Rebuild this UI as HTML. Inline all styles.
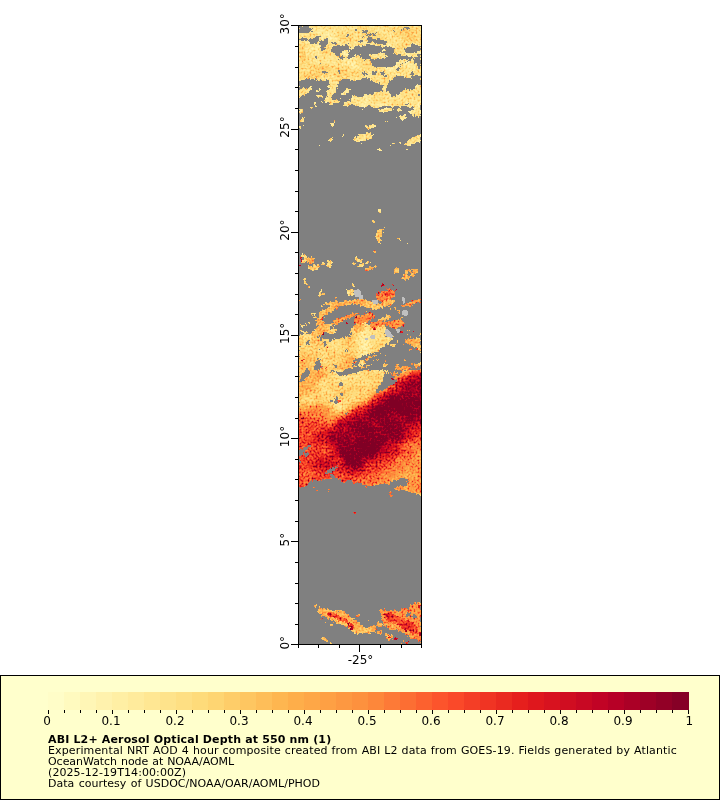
<!DOCTYPE html>
<html lang="en"><head><meta charset="utf-8"><title>ABI L2+ Aerosol Optical Depth at 550 nm</title>
<style>
html,body{margin:0;padding:0;background:#fff;}
body{width:720px;height:800px;overflow:hidden;font-family:"DejaVu Sans","Liberation Sans",sans-serif;}
svg{display:block;}
text{font-family:"DejaVu Sans","Liberation Sans",sans-serif;fill:#000;}
.ax{font-size:12px;}
.lg{font-size:11px;}
.lb{font-size:12px;}
.b{font-weight:bold;}
</style></head><body>
<svg width="720" height="800" viewBox="0 0 720 800">
<rect width="720" height="800" fill="#fff"/>
<g shape-rendering="crispEdges"><rect x="298" y="25" width="124" height="620" fill="#808080"/></g>
<clipPath id="mc"><rect x="298" y="25" width="124" height="620"/></clipPath>
<filter id="bl" filterUnits="userSpaceOnUse" x="270" y="340" width="180" height="200" color-interpolation-filters="sRGB"><feGaussianBlur stdDeviation="3"/></filter>
<filter id="nz" filterUnits="userSpaceOnUse" x="290" y="17" width="140" height="636" color-interpolation-filters="sRGB">
<feTurbulence type="fractalNoise" baseFrequency="0.5" numOctaves="2" seed="3" result="n"/>
<feDisplacementMap in="SourceGraphic" in2="n" scale="5" xChannelSelector="R" yChannelSelector="G" result="d"/>
<feColorMatrix in="d" type="matrix" values="0 0 0 0 0  0 0 0 0 0  0 0 0 0 0  0 0 4 0 -1.5" result="m"/>
<feColorMatrix in="d" type="matrix" values="1 0 0 0 0  1 0 0 0 0  1 0 0 0 0  0 0 0 0 1" result="v"/>
<feColorMatrix in="n" type="matrix" values="0 0 1 0 0  0 0 1 0 0  0 0 1 0 0  0 0 0 0 1" result="ng"/>
<feComponentTransfer in="ng" result="ns"><feFuncR type="table" tableValues="0.2 0.2 0.22 0.25 0.3 0.36 0.45 0.6 0.85 1 1"/><feFuncG type="table" tableValues="0.2 0.2 0.22 0.25 0.3 0.36 0.45 0.6 0.85 1 1"/><feFuncB type="table" tableValues="0.2 0.2 0.22 0.25 0.3 0.36 0.45 0.6 0.85 1 1"/></feComponentTransfer>
<feComposite in="v" in2="ns" operator="arithmetic" k1="0.7" k2="0.74" k3="0.3" k4="-0.111" result="vn"/>
<feTurbulence type="fractalNoise" baseFrequency="0.07" numOctaves="2" seed="11" result="n2"/>
<feColorMatrix in="n2" type="matrix" values="1 0 0 0 0  1 0 0 0 0  1 0 0 0 0  0 0 0 0 1" result="n2g"/>
<feComposite in="vn" in2="n2g" operator="arithmetic" k1="0.2" k2="0.9" k3="0.16" k4="-0.08" result="vn2"/>
<feComponentTransfer in="vn2" result="col"><feFuncR type="table" tableValues="1.0000 1.0000 0.9961 0.9961 0.9922 0.9882 0.8902 0.7412 0.5020 0.5020 0.5020"/><feFuncG type="table" tableValues="1.0000 0.9294 0.8510 0.6980 0.5529 0.3059 0.1020 0.0000 0.0000 0.0000 0.0000"/><feFuncB type="table" tableValues="0.8000 0.6275 0.4627 0.2980 0.2353 0.1647 0.1098 0.1490 0.1490 0.1490 0.1490"/></feComponentTransfer>
<feComposite in="col" in2="m" operator="in"/>
</filter>
<g clip-path="url(#mc)"><g filter="url(#nz)" shape-rendering="crispEdges"><rect x="290" y="17" width="140" height="636" fill="#000"/><polygon fill="rgb(39,0,255)" points="298,25 422,25 422,100 298,100"/>
<polygon fill="rgb(51,0,255)" points="384,26 421,26 421,45 414,43 406,40 396,37 388,32"/>
<polygon fill="rgb(51,0,255)" points="299,62 314,64 327,67 346,65 360,70 354,76 324,76 309,78 299,79"/>
<polygon fill="rgb(51,0,255)" points="299,45 305,45 306,60 299,62"/>
<polygon fill="rgb(0,0,0)" points="299,26 308,26 309,27.5 312.5,28.5 312,32 306,33 299,33.2"/>
<polygon fill="rgb(0,0,0)" points="299,39 303,38 307,38.5 311.5,39 315.5,37 318,35.5 319.8,36 319,40 317.5,43 314,44.5 310,44 308,41.5 303.5,40.5 299,41.2"/>
<polygon fill="rgb(0,0,0)" points="318.5,41.5 323,40 327.5,40.5 328,43.5 326,46 324,50 321.5,50 321,46 319,44.5"/>
<polygon fill="rgb(0,0,0)" points="323.5,37.5 327.5,37.5 327.5,39.5 323.5,39.5"/>
<polygon fill="rgb(0,0,0)" points="332,41.5 336,41.5 336,44 332,44"/>
<polygon fill="rgb(0,0,0)" points="346.5,33.5 349,33.5 349,35.5 346.5,35.5"/>
<polygon fill="rgb(0,0,0)" points="355,28.5 357,28.5 357,31 355,31"/>
<polygon fill="rgb(0,0,0)" points="362.5,30.5 366,30.5 366,32.5 362.5,32.5"/>
<polygon fill="rgb(0,0,0)" points="359,35.5 364,35.5 364,37 359,37"/>
<polygon fill="rgb(0,0,0)" points="358,39.5 363,39.5 363,41.5 358,41.5"/>
<polygon fill="rgb(0,0,0)" points="330,50 334,46.5 339,45 343,46 346,43.5 348.5,44 348,47 350,49 348.5,51 346,50 342,51 341,54 339,56 336,55.5 334,53 331.5,52"/>
<polygon fill="rgb(0,0,0)" points="339,55.5 344,55.5 344,58.5 339,58.5"/>
<polygon fill="rgb(0,0,0)" points="348.5,53 351.5,50 355,47.5 360,46.2 366,45.8 366,60 363.5,59.5 360.5,56.5 358,55 354.5,55 352,58 349,59.5 347,57.5"/>
<polygon fill="rgb(0,0,0)" points="299,81.5 301.5,80 306,79 314,79.2 323,80 327.5,80.5 329,82.5 327.5,86 324,89 320,89 317.5,90 314.5,92 313,89 310,87.2 307,89 303.5,87.2 300,89 299,90"/>
<polygon fill="rgb(0,0,0)" points="299,98 304,95 309,91.5 312.5,89 317.5,90 324,89 327.5,86.5 329,89 327,92 327.5,96 325,100 299,100"/>
<polygon fill="rgb(39,0,255)" points="316,90 319,90 319,92 316,92"/>
<polygon fill="rgb(39,0,255)" points="316.5,94.5 321.5,94.5 321.5,96.5 316.5,96.5"/>
<polygon fill="rgb(0,0,0)" points="339.5,81 343,79.5 350,79 354,81 358,82.5 366,78.5 366,93.5 363,94.5 358,94 354,95.5 350,99 348,100 338,100 334,100 331,97.5 333.5,94 337,90 338,85"/>
<polygon fill="rgb(39,0,255)" points="341.5,93.5 346,90 349.5,88 351.5,89 348.5,92 344,95 342,95.5"/>
<polygon fill="rgb(0,0,0)" points="320.3,63 321.2,63 321.2,65.5 320.3,65.5"/>
<polygon fill="rgb(0,0,0)" points="314,56.5 316.5,56.5 316.5,58 314,58"/>
<polygon fill="rgb(0,0,0)" points="322,71 327,71 327,72.5 322,72.5"/>
<polygon fill="rgb(0,0,0)" points="338,71 340,71 340,73.5 338,73.5"/>
<polygon fill="rgb(0,0,0)" points="327,80 329,80 329,81.5 327,81.5"/>
<polygon fill="rgb(0,0,0)" points="367,38.5 370.5,37 374,38.5 380,39.5 384,40.5 387,41.5 386,43.5 380,44 375,43.5 372,41.5 369,42.5 367.5,40.5"/>
<polygon fill="rgb(0,0,0)" points="362.5,30.5 368,30.5 368,32.5 362.5,32.5"/>
<polygon fill="rgb(0,0,0)" points="366,34 370.5,34 370.5,35.5 366,35.5"/>
<polygon fill="rgb(0,0,0)" points="373,33 375.5,33 375.5,36.5 373,36.5"/>
<polygon fill="rgb(0,0,0)" points="358,40 362,40 362,41.5 358,41.5"/>
<polygon fill="rgb(0,0,0)" points="355,28.5 356.5,28.5 356.5,30.5 355,30.5"/>
<polygon fill="rgb(0,0,0)" points="405,26.5 409,26.5 409,30 407,30.5 404.5,28.5"/>
<polygon fill="rgb(0,0,0)" points="401,29 403.5,29 403.5,30.5 401,30.5"/>
<polygon fill="rgb(0,0,0)" points="392.5,29.5 394.5,29.5 394.5,31 392.5,31"/>
<polygon fill="rgb(0,0,0)" points="354,46.2 359,46.5 366,45.5 372,45 380,46.2 384,47 392,46.2 394,48.5 395.5,51 392,53.5 388.5,55 389,58 387,60 384,60.5 380,61.5 375.5,64 374,66.5 372,64 371,60 369,58.5 364,59.5 361,57 360,54.5 354,55"/>
<polygon fill="rgb(39,0,255)" points="368.5,55.2 375.5,53.7 383,53 387.5,55 386,58 379,58.5 374,59.5 371,57.7"/>
<polygon fill="rgb(39,0,255)" points="382,48.5 385,48.5 385,50.5 382,50.5"/>
<polygon fill="rgb(0,0,0)" points="404,50 406,47.5 410,46.5 412.5,44 416,44.5 419,46 421,46.5 421,50 418,51 414,52.5 410,53.5 406,53"/>
<polygon fill="rgb(0,0,0)" points="388.5,54.5 396,54 401,55.5 407,56.5 411.5,56 413,58.5 409.5,60.5 406,63 401,65.5 396,67 387,66.5 379,67 374.5,66.5 375.5,64 380,61.5 387,60 389,58"/>
<polygon fill="rgb(0,0,0)" points="413,58 418,55 421,54 421,67 418,68 416,64 414,61"/>
<polygon fill="rgb(39,0,255)" points="396,62.5 401,60.2 406,58.8 408.5,60.2 404.5,63.2 398.5,66.5 395,66.8"/>
<polygon fill="rgb(0,0,0)" points="383,70.5 385,74 387.5,77.5 382,76 379.5,73"/>
<polygon fill="rgb(0,0,0)" points="372,71 375.5,71 375.5,74.5 372,74.5"/>
<polygon fill="rgb(0,0,0)" points="362,72 367,72 367,74.5 362,74.5"/>
<polygon fill="rgb(0,0,0)" points="396,68 399,68 399,70 396,70"/>
<polygon fill="rgb(0,0,0)" points="411,72 414,72 414,74.5 411,74.5"/>
<polygon fill="rgb(0,0,0)" points="354,79.5 360,80 362.5,78 369,78.5 370.5,81.2 376,82.8 383,84 385,85 382.5,89 381,92 375.5,92 373,94.5 367,94.5 363,96.5 358,97.5 354,94.5"/>
<polygon fill="rgb(0,0,0)" points="388,82.5 394,78 398,76 404,76.5 408,79 411.5,77 416,74.5 419,76 421,79 421,84.5 417,85.5 414,89 410,90 406,89.2 402,91.2 399,94.2 394,96.2 391.8,97.2 390.5,94.2 388.5,91.2 386,90 387,86"/>
<polygon fill="rgb(0,0,0)" points="418,94 421,94 421,97 418,97"/>
<polygon fill="rgb(39,0,255)" points="324,100 341,100 339,102 334,103 331,104.5 328.5,102.5 324,102"/>
<polygon fill="rgb(39,0,255)" points="343,104 347,101.5 354,100 366,100 366,106 362,107.5 358,106 355,103.5 350,105 346,106 343.5,105.5"/>
<polygon fill="rgb(39,0,255)" points="314,103 316,103 316,105.5 314,105.5"/>
<polygon fill="rgb(39,0,255)" points="311,106.8 313,106.8 313,107.8 311,107.8"/>
<polygon fill="rgb(39,0,255)" points="321,101 323,101 323,103 321,103"/>
<polygon fill="rgb(39,0,255)" points="318,101.8 319,101.8 319,102.8 318,102.8"/>
<polygon fill="rgb(39,0,255)" points="299.2,109 303,109 303,113 299.2,113"/>
<polygon fill="rgb(39,0,255)" points="300.5,118 303.5,118 303.5,122 300.5,122"/>
<polygon fill="rgb(39,0,255)" points="302.5,124 304,124 304,126 302.5,126"/>
<polygon fill="rgb(39,0,255)" points="299.2,126 301,126 301,128 299.2,128"/>
<polygon fill="rgb(39,0,255)" points="304,117 305,117 305,118 304,118"/>
<ellipse fill="rgb(39,0,255)" cx="332" cy="124" rx="2.2" ry="2"/>
<polygon fill="rgb(39,0,255)" points="325,121.8 327,121.8 327,123 325,123"/>
<polygon fill="rgb(39,0,255)" points="330,120 331.2,120 331.2,121 330,121"/>
<polygon fill="rgb(39,0,255)" points="343,134 345.2,134 345.2,136 343,136"/>
<polygon fill="rgb(39,0,255)" points="329,139.5 330.5,137.8 333,139 332.5,140.5 329.5,141"/>
<polygon fill="rgb(39,0,255)" points="318.8,145 320,145 320,146.2 318.8,146.2"/>
<polygon fill="rgb(39,0,255)" points="353,139 357,137.5 360,134.5 366,134 366,140.5 362,141 359,141.5 354,140.8"/>
<polygon fill="rgb(39,0,255)" points="361,143 362.2,143 362.2,144 361,144"/>
<polygon fill="rgb(39,0,255)" points="365,125 366,125 366,127 365,127"/>
<polygon fill="rgb(39,0,255)" points="362,109.2 363,109.2 363,110.8 362,110.8"/>
<polygon fill="rgb(39,0,255)" points="354,100 421,100 421,117 418,117.5 414,116 411,115 408.5,112 412,110 410,108 406,106 402,107.5 398,107 394,105.5 388,107 383,105.5 378,107.5 374,108 370,105 366,107 362,107.5 359,105.5 354,106.2"/>
<polygon fill="rgb(0,0,0)" points="404,103.5 410,103.5 410,105 404,105"/>
<polygon fill="rgb(0,0,0)" points="410.5,106.5 414,106.5 414,109.5 410.5,109.5"/>
<polygon fill="rgb(39,0,255)" points="378,109.5 384,108.5 392,108 394,109.5 388,111.5 383,112.8 379,112.2"/>
<polygon fill="rgb(39,0,255)" points="396,109 401,109 401,110.5 396,110.5"/>
<polygon fill="rgb(39,0,255)" points="400,116.5 403,114.5 406.5,115 406,118 403,120 400.2,119.5"/>
<polygon fill="rgb(39,0,255)" points="395,117.5 397,117.5 397,119 395,119"/>
<polygon fill="rgb(39,0,255)" points="385,122 386.5,120 388,122"/>
<polygon fill="rgb(39,0,255)" points="365,125 367,125 367,127 365,127"/>
<polygon fill="rgb(39,0,255)" points="367,126 372,124 376,125.5 375.5,127 370.5,129 367.5,128.5"/>
<polygon fill="rgb(39,0,255)" points="354,138.5 358,135.5 364,134 369,133 373,134.5 372,138 367,140 362,141 359,141.8 354,141"/>
<polygon fill="rgb(39,0,255)" points="361,143 362.2,143 362.2,144 361,144"/>
<polygon fill="rgb(39,0,255)" points="376,148.5 377.5,148.5 377.5,150 376,150"/>
<polygon fill="rgb(39,0,255)" points="378,148 381.2,148 381.2,150 378,150"/>
<polygon fill="rgb(39,0,255)" points="390,144 391.2,144 391.2,146 390,146"/>
<polygon fill="rgb(39,0,255)" points="393,143 394,143 394,144 393,144"/>
<polygon fill="rgb(39,0,255)" points="400,142 401,142 401,144 400,144"/>
<polygon fill="rgb(39,0,255)" points="405,144 407,141 411,138 416,136 421,134 421,142 418,142.5 414,144 410,146 406,146"/>
<polygon fill="rgb(39,0,255)" points="406,148.8 408,148.8 408,150 406,150"/>
<polygon fill="rgb(51,0,255)" points="379,209 381,209 381,213 379,213"/>
<polygon fill="rgb(63,0,255)" points="376,231 382,228 385,227 382,234 381,240 379,244 376,238"/>
<polygon fill="rgb(51,0,255)" points="373,221 375,221 375,222 373,222"/>
<polygon fill="rgb(51,0,255)" points="398,238 400,238 400,240 398,240"/>
<polygon fill="rgb(51,0,255)" points="406,243 408,243 408,245 406,245"/>
<polygon fill="rgb(77,0,255)" points="373,251 376,251 376,253 373,253"/>
<ellipse fill="rgb(51,0,255)" cx="303.6" cy="258.4" rx="3.4" ry="4.4"/>
<ellipse fill="rgb(0,0,0)" cx="303.6" cy="258.4" rx="1.4" ry="2"/>
<polygon fill="rgb(77,0,255)" points="307,259 312,257 315,260 313,264 308,264"/>
<polygon fill="rgb(51,0,255)" points="308,266 318,265 319,269 313,271 309,269"/>
<polygon fill="rgb(51,0,255)" points="327,261 332,260 332,265 329,268 327,265"/>
<polygon fill="rgb(51,0,255)" points="322,263 324,263 324,265 322,265"/>
<polygon fill="rgb(169,0,255)" points="300.4,257 302,257 302,262 300.4,262"/>
<polygon fill="rgb(169,0,255)" points="299.4,265 301.2,265 301.2,266 299.4,266"/>
<polygon fill="rgb(51,0,255)" points="354,257 357,257 357,260 354,260"/>
<polygon fill="rgb(51,0,255)" points="357,259 362,259 362,262.4 357,262.4"/>
<polygon fill="rgb(51,0,255)" points="352,262 356,262 356,264.4 352,264.4"/>
<polygon fill="rgb(51,0,255)" points="357,266 368,261 370,262.4 360,267.4"/>
<polygon fill="rgb(77,0,255)" points="364,269 376,265 377,267 367,271"/>
<polygon fill="rgb(63,0,255)" points="394,268 399,268 399,273 394,273"/>
<polygon fill="rgb(77,0,255)" points="401,279 406,270 416,268 419,271 413,276 406,280"/>
<polygon fill="rgb(0,0,0)" points="408,272 413,271 410,276 407.6,275.6"/>
<polygon fill="rgb(51,0,255)" points="303,278 306,279 307,286 304.4,285"/>
<polygon fill="rgb(51,0,255)" points="308,286 310,286 310,288 308,288"/>
<polygon fill="rgb(51,0,255)" points="318,295 321,289 322.4,290 320,296.4"/>
<polygon fill="rgb(51,0,255)" points="352,284 354,284 354,287 352,287"/>
<polygon fill="rgb(51,0,255)" points="347,290 353,289 355,294 350,296.4 347,294"/>
<polygon fill="rgb(114,0,255)" points="376,294.4 382,291 388,289 394,291 395,296 390,300 382,302 377,299"/>
<polygon fill="rgb(133,0,255)" points="384,292 392,290.4 393,295 387,298 383.6,296"/>
<polygon fill="rgb(153,0,255)" points="381,283.6 383.6,283.6 383.6,285.6 381,285.6"/>
<polygon fill="rgb(169,0,255)" points="392.4,284.4 394,284.4 394,286 392.4,286"/>
<polygon fill="rgb(169,0,255)" points="395.6,289.6 397,289.6 397,291.2 395.6,291.2"/>
<polygon fill="rgb(77,0,255)" points="322,293 324,293 324,295 322,295"/>
<polygon fill="rgb(77,0,255)" points="318,295.5 321,295.5 321,296.5 318,296.5"/>
<polygon fill="rgb(77,0,255)" points="335,297 337,297 337,298.5 335,298.5"/>
<polygon fill="rgb(77,0,255)" points="300,299 301,299 301,300 300,300"/>
<polygon fill="rgb(51,0,255)" points="348,290 352,290 352,292 348,292"/>
<polygon fill="rgb(51,0,255)" points="351,292.5 353,292.5 353,294.5 351,294.5"/>
<polygon fill="rgb(77,0,255)" points="323.5,303.5 327,301.5 332,302 338,301 342,302.5 346,300 350,301 354,299.5 360,299 366,298.5 366,305 362,306 358,305 354,303.5 350,305 346,305 342,306 338,307 336,309 332,311.5 328,313 326,315 323,317 320,320 318,322 315.5,323 316.5,320 319,317 319,312.5 322,310.5 327,309 331,306.5 329,305 325,305"/>
<polygon fill="rgb(51,0,255)" points="311,312.5 317,312.5 317,315 311,315"/>
<polygon fill="rgb(51,0,255)" points="313,316 316,316 316,318 313,318"/>
<polygon fill="rgb(77,0,255)" points="320,305 322,305 322,307 320,307"/>
<ellipse fill="rgb(51,0,255)" cx="307.5" cy="323.5" rx="2.5" ry="2"/>
<ellipse fill="rgb(0,0,0)" cx="307.3" cy="323.5" rx="1" ry="0.8"/>
<polygon fill="rgb(96,0,255)" points="331,323.5 335,320 340,317.5 346,316.2 350,314 355,312.5 358,313.5 354,316 348,318.5 344,320 341,322 338,324.5 334,325"/>
<polygon fill="rgb(63,0,255)" points="315.5,323 320,320 324,321 327,324 331,324 334,326.5 336,330 334,334 329,334 326,332 323,334 319,335 317,338 312,337 309,334 312,332 315,329 318,326 316.5,324.5"/>
<polygon fill="rgb(0,0,0)" points="325.2,320.2 329,320.2 329,323.8 325.2,323.8"/>
<polygon fill="rgb(0,0,0)" points="329.5,326.2 333,326.2 333,329 329.5,329"/>
<polygon fill="rgb(51,0,255)" points="299,336 304,334 309,334 312,337 317,338 320,335 337,339 342,338 348,337 352,334 351,330 353,326 356,323 360,322 364,320 366,319 366,370 299,370"/>
<polygon fill="rgb(63,0,255)" points="299,338 306,337 314,340 318,346 319,354 324,358 330,356 337,355 346,354 353,356 354,362 350,370 299,370"/>
<polygon fill="rgb(51,0,255)" points="317,350 327,346 339,342 354,338 366,335 366,350 358,352 350,353 342,354 334,355 327,357 321,356"/>
<polygon fill="rgb(0,0,0)" points="319.5,337 323,334 329,334.5 334,334.5 337,337.5 334,340 329,339.5 324,339 321,340"/>
<polygon fill="rgb(51,0,255)" points="301,330 304,330 304,332 301,332"/>
<polygon fill="rgb(51,0,255)" points="304,332 307,332 307,337 304,337"/>
<polygon fill="rgb(51,0,255)" points="300,325 304,325 304,326.5 300,326.5"/>
<polygon fill="rgb(0,0,0)" points="306,341 309,341 309,345 306,345"/>
<polygon fill="rgb(0,0,0)" points="317,359 320,362 319,370 315.5,370 315,364"/>
<polygon fill="rgb(0,0,0)" points="319,348 321,348 321,350 319,350"/>
<polygon fill="rgb(0,0,0)" points="324,341 325.8,341 325.8,346 324,346"/>
<polygon fill="rgb(0,0,0)" points="329,340 331,340 331,342 329,342"/>
<polygon fill="rgb(0,0,0)" points="355.5,355 360,353 366,352.5 366,360 362,360 358,363 355,366 352.5,363.5 354,359"/>
<polygon fill="rgb(0,0,0)" points="357,366.5 366,364 366,370 358,370"/>
<polygon fill="rgb(0,0,0)" points="344.5,350 348,350 348,351.5 344.5,351.5"/>
<polygon fill="rgb(133,0,255)" points="321,318 323,318 323,320 321,320"/>
<polygon fill="rgb(169,0,255)" points="322.5,332 324,332 324,334 322.5,334"/>
<polygon fill="rgb(169,0,255)" points="346,322.5 348.5,322.5 348.5,325 346,325"/>
<polygon fill="rgb(212,0,255)" points="355.5,317 357.2,317 357.2,318.8 355.5,318.8"/>
<polygon fill="rgb(133,0,255)" points="339.5,317 341.5,317 341.5,318.5 339.5,318.5"/>
<polygon fill="rgb(169,0,255)" points="327,347 328,347 328,348 327,348"/>
<polygon fill="rgb(153,0,255)" points="305,322 306,322 306,322.8 305,322.8"/>
<polygon fill="rgb(153,0,255)" points="335,361.5 336.5,361.5 336.5,363 335,363"/>
<polygon fill="rgb(169,0,255)" points="321,366 322.5,366 322.5,367.5 321,367.5"/>
<polygon fill="rgb(153,0,255)" points="325.5,367.5 327,367.5 327,369 325.5,369"/>
<polygon fill="rgb(133,0,255)" points="302,359 303.5,359 303.5,361 302,361"/>
<polygon fill="rgb(96,0,255)" points="375.5,297.5 379,294 383,291.5 388,290 394,290 393.5,293 391.5,296 389,299 384,299.5 379,300 376.5,299.5"/>
<polygon fill="rgb(133,0,255)" points="384,293 389,291 392.5,292 390,296 386,297.5"/>
<polygon fill="rgb(77,0,255)" points="354,300 360,301 366,300 372,302 379,304 384,301 390,300 396,299.5 394,302.5 391,305 386,306.5 381,308 376,309.5 373,310 369,308.5 365,307 360,305 354,304"/>
<polygon fill="rgb(96,0,255)" points="401,305.5 406,303.5 412,301.5 418,299.5 421,298.5 421,301 416,303 411,305.5 406,306.5 402,307"/>
<polygon fill="rgb(77,0,255)" points="394,307 395.5,307 395.5,309.5 394,309.5"/>
<polygon fill="rgb(77,0,255)" points="390,309 391.2,309 391.2,311 390,311"/>
<polygon fill="rgb(77,0,255)" points="398,311 400,311 400,314 398,314"/>
<polygon fill="rgb(77,0,255)" points="400.2,317 402,317 402,319 400.2,319"/>
<polygon fill="rgb(96,0,255)" points="354,316 360,315 364,314.5 369,311.5 373,313 375.5,316.5 370,320 366,323 360,324 354,323"/>
<polygon fill="rgb(63,0,255)" points="379,319 387,315 391.2,315.5 390,318.5 384,321 380,321.5"/>
<polygon fill="rgb(96,0,255)" points="371,323 379,321 387,322 394,320 401,320 405,323 402,326 398,327.5 394,328.5 390,327 384,325 378,327 374,329.5 371.5,328 370,325"/>
<polygon fill="rgb(51,0,255)" points="354,324 360,324 366,323 370,325 371.5,328 374,329.5 378,327 384,325 387,328.5 385,330 385.2,333 387,336.5 391.5,338 393.5,336 392,340 387,344 382,348 377,352 371,354 365,355 360,358 354,359"/>
<polygon fill="rgb(39,0,255)" points="360,332 369,330 382,330 384,337 379,344 369,350 360,350 356,340"/>
<polygon fill="rgb(77,0,255)" points="354,324 362,324 366,326 364,330 358,332 354,333"/>
<polygon fill="rgb(63,0,255)" points="390,344.5 395,344 395,346 390.5,347"/>
<polygon fill="rgb(77,0,255)" points="405,339 410,339 416,338 421,339 421,353 418,350 415,347 412,346 408,344 405.5,342"/>
<polygon fill="rgb(153,0,255)" points="407.5,339 409,339 409,341 407.5,341"/>
<polygon fill="rgb(153,0,255)" points="416,348 418,348 418,349.5 416,349.5"/>
<polygon fill="rgb(77,0,255)" points="408,330 409,330 409,331 408,331"/>
<polygon fill="rgb(169,0,255)" points="413,330 414,330 414,332 413,332"/>
<polygon fill="rgb(184,0,255)" points="420,318.8 420.8,318.8 420.8,319.8 420,319.8"/>
<polygon fill="rgb(63,0,255)" points="405.5,335 407,335 407,337 405.5,337"/>
<polygon fill="rgb(77,0,255)" points="409,336 410,336 410,337 409,337"/>
<polygon fill="rgb(77,0,255)" points="419,334 420.8,334 420.8,336 419,336"/>
<polygon fill="rgb(63,0,255)" points="397,340 398,340 398,342 397,342"/>
<polygon fill="rgb(77,0,255)" points="404,344 405,344 405,345 404,345"/>
<polygon fill="rgb(96,0,255)" points="409,348 411.5,348 411.5,349.5 409,349.5"/>
<polygon fill="rgb(153,0,255)" points="400,331 402,331 402,333 400,333"/>
<polygon fill="rgb(169,0,255)" points="403,325 404,325 404,326.5 403,326.5"/>
<polygon fill="rgb(77,0,255)" points="362.5,361 367,358 371.5,356 372.5,357 368,360 364,362.8"/>
<polygon fill="rgb(77,0,255)" points="354,360.5 356.5,361.5 356,363 354,362.8"/>
<polygon fill="rgb(63,0,255)" points="360,367 365,366 371,364.5 373,366 369,369 363,370 360,369.5"/>
<polygon fill="rgb(77,0,255)" points="373,355 376,355 376,356.8 373,356.8"/>
<polygon fill="rgb(77,0,255)" points="380,352.8 381,352.8 381,353.8 380,353.8"/>
<polygon fill="rgb(77,0,255)" points="385,355 386,355 386,356 385,356"/>
<polygon fill="rgb(77,0,255)" points="377,360 379,360 379,361.2 377,361.2"/>
<polygon fill="rgb(77,0,255)" points="385,361 386,361 386,362 385,362"/>
<polygon fill="rgb(77,0,255)" points="372,360 373.5,360 373.5,361.2 372,361.2"/>
<polygon fill="rgb(63,0,255)" points="382,366 386,364.5 387,365.5 384,367.5"/>
<polygon fill="rgb(77,0,255)" points="396,364.5 399,364.5 399,366.5 396,366.5"/>
<polygon fill="rgb(96,0,255)" points="396,367 401,366.5 406,366 410,367 410,370 396,370"/>
<polygon fill="rgb(77,0,255)" points="404,360 406,360 406,361.2 404,361.2"/>
<polygon fill="rgb(96,0,255)" points="411,363 412.5,363 412.5,364.5 411,364.5"/>
<polygon fill="rgb(77,0,255)" points="414,364 418,364 418,370 414,370"/>
<polygon fill="rgb(63,0,255)" points="418,363 421,363 421,370 418,370"/>
<polygon fill="rgb(169,0,255)" points="399.5,366.5 400.5,366.5 400.5,367.5 399.5,367.5"/>
<polygon fill="rgb(153,0,255)" points="416,367 417.2,367 417.2,368.5 416,368.5"/>
<polygon fill="rgb(153,0,255)" points="354,353 355.2,353 355.2,354 354,354"/>
<polygon fill="rgb(169,0,255)" points="355,317 357,317 357,319 355,319"/>
<polygon fill="rgb(153,0,255)" points="373,328 375.5,328 375.5,329.5 373,329.5"/>
<polygon fill="rgb(153,0,255)" points="369.5,321 371,321 371,322.5 369.5,322.5"/>
<polygon fill="rgb(133,0,255)" points="369,311.5 370.5,311.5 370.5,313.5 369,313.5"/>
<polygon fill="rgb(153,0,255)" points="392.5,326.5 394.5,326.5 394.5,328.5 392.5,328.5"/>
<polygon fill="rgb(153,0,255)" points="398,326.5 399,326.5 399,328 398,328"/>
<polygon fill="rgb(184,0,255)" points="396,291.5 397,291.5 397,292.8 396,292.8"/>
<polygon fill="rgb(153,0,255)" points="395,290 396,290 396,290.8 395,290.8"/>
<polygon fill="rgb(51,0,255)" points="299,370 421,370 421,485 416,484 408,483 392,486 372,487 358,488 354,481 338,480 328,478 314,480 299,478"/>
<g filter="url(#bl)">
<polygon fill="rgb(77,0,255)" points="288,370 328,370 320,384 308,396 288,400"/>
<polygon fill="rgb(96,0,255)" points="288,408 314,406 328,408 336,416 348,410 364,402 372,396 384,388 396,378 408,370 432,362 432,496 288,496"/>
<polygon fill="rgb(114,0,255)" points="288,414 312,412 324,418 334,419 348,411.6 368,399.6 382,389.6 396,378.6 408,371.6 432,363.6 432,434 420,448 408,460 396,470 384,480 368,490 354,496 288,496"/>
<polygon fill="rgb(133,0,255)" points="288,420 312,418 324,424 334,423 348,414 368,401.6 382,391.6 396,380 408,373.6 432,365.6 432,424 416,436 408,446 400,454 388,463 376,471 364,478 354,490 288,492"/>
<polygon fill="rgb(153,0,255)" points="310,444 314,432 324,429 334,425 348,415 368,402.4 382,392.4 396,381 408,374.4 432,366.4 432,420 416,434 408,444 400,452 388,460 376,468 364,474 354,480 338,478 322,470 312,458"/>
<polygon fill="rgb(184,0,255)" points="328,436 336,426 348,420 364,408 376,402 388,392 400,384 412,380 432,374 432,412 412,428 400,440 388,450 376,460 364,468 354,470 344,464 334,452"/>
<polygon fill="rgb(212,0,255)" points="338,448 344,434 356,424 368,414 384,402 400,391 416,384 432,380 432,406 408,422 396,432 382,446 368,460 356,468 346,462"/>
</g>
<polygon fill="rgb(0,0,0)" points="299.5,381.5 300,375 304,373 306,369.5 309,369 310.5,372 309,376 307,377.5 304,380.5 301.5,381.5"/>
<polygon fill="rgb(0,0,0)" points="314,368 315.5,363 318,360 320,360 320.5,364 322,367 320,370 316.5,370.5 314.5,370"/>
<polygon fill="rgb(0,0,0)" points="330,369.5 333.5,369.5 333.5,371.5 330,371.5"/>
<polygon fill="rgb(0,0,0)" points="334,365 337,365 337,368 334,368"/>
<polygon fill="rgb(0,0,0)" points="337,372.5 342,371.5 346,369 350,368 354,367 359,366 364,365 366,364.5 366,369 363,370.5 359,371.5 356,372.5 352,373.5 348,374.5 344,376 340,376 337.5,375"/>
<polygon fill="rgb(0,0,0)" points="353,363 359,363 359,365.5 353,365.5"/>
<polygon fill="rgb(0,0,0)" points="362,360 366,360 366,362 362,362"/>
<polygon fill="rgb(0,0,0)" points="339,383 342,383 342,386 339,386"/>
<polygon fill="rgb(0,0,0)" points="341,393 343,393 343,395.5 341,395.5"/>
<polygon fill="rgb(0,0,0)" points="334,398 338,397 338.5,400 337,404 334.2,404"/>
<polygon fill="rgb(0,0,0)" points="330,400 332.5,400 332.5,402 330,402"/>
<polygon fill="rgb(0,0,0)" points="344,412 347,412 347,414.5 344,414.5"/>
<polygon fill="rgb(153,0,255)" points="338,400 340,400 340,402.5 338,402.5"/>
<polygon fill="rgb(184,0,255)" points="302,417 304,417 304,419 302,419"/>
<polygon fill="rgb(0,0,0)" points="354,369.5 354,373 360,370 366,368 372,365 376,366 380,369 388,371 390,375 394,377 398,376 401,373 406,370 410,369 416,368 421,366 421,369.5"/>
<polygon fill="rgb(0,0,0)" points="384,370.5 390,375 394,377.5 396,381.5 394,384.5 390,385 387,388 383,390 379,391 376.5,393.5 375.5,391 378,387 381,383 383,379 384,375"/>
<polygon fill="rgb(77,0,255)" points="390,373 396,372 399,373.5 397,376 393,376.5"/>
<polygon fill="rgb(77,0,255)" points="360,366 364,366 364,368 360,368"/>
<polygon fill="rgb(63,0,255)" points="362,361 365,361 365,363 362,363"/>
<polygon fill="rgb(63,0,255)" points="383,364 387,364 387,366 383,366"/>
<polygon fill="rgb(77,0,255)" points="396,364 399,364 399,366 396,366"/>
<polygon fill="rgb(77,0,255)" points="395,367.5 398,367.5 398,370 395,370"/>
<polygon fill="rgb(63,0,255)" points="418,363 420.5,363 420.5,366 418,366"/>
<polygon fill="rgb(77,0,255)" points="415,365 416.5,365 416.5,367 415,367"/>
<polygon fill="rgb(169,0,255)" points="392,378 394,378 394,380 392,380"/>
<polygon fill="rgb(0,0,0)" points="299,487 303,487.5 307,486.5 308,483 312,481 317,480 321,480.5 324,478.5 328,479.5 332,478 336,477.5 341,480 342,483 345,482 348,479.5 352,480 353,484 356,483 358,487 360,487 362,485 366,484.5 366,520 299,520"/>
<polygon fill="rgb(0,0,0)" points="299,450 301,449.5 307,446 311,444.5 311.5,446 307,449 304,452 302,455 300,456 299,456.5"/>
<polygon fill="rgb(0,0,0)" points="299,458.5 301,458.5 301,463 299,463"/>
<polygon fill="rgb(0,0,0)" points="303.5,453 307,452 309,454 307,456.5 304,456"/>
<polygon fill="rgb(0,0,0)" points="324,473 328,470 334,467 338,465 339,466.5 335,469.5 330,472.5 326,474.5"/>
<polygon fill="rgb(0,0,0)" points="331,474.5 335,474.5 335,477.5 331,477.5"/>
<polygon fill="rgb(114,0,255)" points="328,489 329.5,489 329.5,490.5 328,490.5"/>
<polygon fill="rgb(114,0,255)" points="316,489 317,489 317,490 316,490"/>
<polygon fill="rgb(114,0,255)" points="313,486.8 314.5,486.8 314.5,487.8 313,487.8"/>
<polygon fill="rgb(114,0,255)" points="354,512 356,512 356,514 354,514"/>
<polygon fill="rgb(0,0,0)" points="354,484.5 357,483 362,482.5 362,487 366,487 372,485.5 378,484.5 384,484 389,484 392,481 397,480 402,478.5 406,478 408,480 407,484 405,486.5 400,486 396,487 394,490 398,489.5 402,490 406,491 411,492.5 416,493 419,494.5 421,495 421,520 354,520"/>
<polygon fill="rgb(114,0,255)" points="389,492 390.5,492.5 392,495.5 390.5,495.5"/>
<polygon fill="rgb(114,0,255)" points="381,494 382.2,494 382.2,495 381,495"/>
<polygon fill="rgb(114,0,255)" points="393,494 394,494 394,495 393,495"/>
<polygon fill="rgb(114,0,255)" points="354,512 356,512 356,514 354,514"/>
<polygon fill="rgb(77,0,255)" points="315,605 317,605 317,608 315,608"/>
<polygon fill="rgb(77,0,255)" points="317,611 319,606 323,608.5 327,608.5 331,611.5 334,609.5 338,611.5 343,610.5 347,614 351,618 356,621 361,625 366,628 366,633 362,633.5 358,632 354,634 351,631 347,627 344,625 340,624.5 336,623 332,620 328,619 324,616.5 320,615 317.5,612.5"/>
<polygon fill="rgb(133,0,255)" points="327,613 331,611.5 334,613.5 338,615 342,617 346,619 350,622 354,626 355,629 351,629.5 348,624 344,622 340,621 336,619 332,616.5 328,616"/>
<polygon fill="rgb(184,0,255)" points="350,626 353,626 353,629.5 350,629.5"/>
<polygon fill="rgb(169,0,255)" points="347,621.5 349,621.5 349,623.5 347,623.5"/>
<polygon fill="rgb(169,0,255)" points="328.5,612.5 330,612.5 330,614 328.5,614"/>
<polygon fill="rgb(96,0,255)" points="357,615 360,615 360,616.8 357,616.8"/>
<polygon fill="rgb(133,0,255)" points="321,618 323,618 323,619 321,619"/>
<polygon fill="rgb(77,0,255)" points="325,622 327,622 327,622.8 325,622.8"/>
<polygon fill="rgb(77,0,255)" points="330,624 332.5,624 332.5,625.5 330,625.5"/>
<polygon fill="rgb(63,0,255)" points="322,637 324,637 326,639 328,641.5 326,641.5 322.5,639.5"/>
<polygon fill="rgb(77,0,255)" points="330,643 332,643 332,644 330,644"/>
<polygon fill="rgb(133,0,255)" points="354,512 356,512 356,514 354,514"/>
<polygon fill="rgb(77,0,255)" points="354,619 358,622 362,626 366,628.5 369,627 373,625 375.5,627 376,631 373,633 369,634 364,632 359,633.5 354,634"/>
<polygon fill="rgb(77,0,255)" points="375.5,623 379,622 383,624 384,626 380,627 376,626.5"/>
<polygon fill="rgb(77,0,255)" points="377,631.2 383,631.2 383,633.8 377,633.8"/>
<polygon fill="rgb(96,0,255)" points="380,609 383,610 388,611 394,609.5 398,611.5 404,608 408,609.5 410,606 414,603.5 418,602 421,602.5 421,644 419,640 414,639 410,637 406,634 402,632 398,630 394,629.5 390,630 386,627 383,623 381,619 380.5,614"/>
<polygon fill="rgb(133,0,255)" points="384,613 390,612.5 396,615 402,618 408,621 414,623 418,628 419,634 414,634 408,630 402,628 396,624 390,623 386,620"/>
<polygon fill="rgb(0,0,0)" points="407,613 411,613 411,616.5 407,616.5"/>
<polygon fill="rgb(0,0,0)" points="412,615 416,614 417,618 413,619"/>
<polygon fill="rgb(77,0,255)" points="385,633 388,634 393,635.5 392.5,639 389,640.5 386,638"/>
<polygon fill="rgb(169,0,255)" points="394,637 397,637 397,640 394,640"/>
<polygon fill="rgb(153,0,255)" points="388,636 390,636 390,638 388,638"/>
<polygon fill="rgb(153,0,255)" points="406,641.5 408.5,641.5 408.5,643.5 406,643.5"/>
<polygon fill="rgb(96,0,255)" points="401,642.8 403,642.8 403,644 401,644"/>
<polygon fill="rgb(96,0,255)" points="394,643 395,643 395,644 394,644"/>
<polygon fill="rgb(96,0,255)" points="403,641 404,641 404,642 403,642"/>
<polygon fill="rgb(184,0,255)" points="404,629 407,629 407,632 404,632"/>
<polygon fill="rgb(184,0,255)" points="411.5,629 414,629 414,632 411.5,632"/>
<polygon fill="rgb(169,0,255)" points="418,605 420.5,605 420.5,607.5 418,607.5"/>
<polygon fill="rgb(169,0,255)" points="386,613.5 388,613.5 388,615.5 386,615.5"/>
<polygon fill="rgb(169,0,255)" points="419,632 420.8,632 420.8,636 419,636"/>
<polygon fill="rgb(77,0,255)" points="367,620 368,620 368,621 367,621"/></g><g shape-rendering="crispEdges"><polygon fill="#c0c0c0" points="353.6,292.4 358,289 361.2,292 360,296.4 355,297.2"/>
<polygon fill="#c0c0c0" points="358,295.6 362.4,295 363.2,298.4 359,299.2"/>
<polygon fill="#c0c0c0" points="372,300.4 377.6,300 378.4,303.6 373,304"/>
<polygon fill="#c0c0c0" points="402,297 404.4,297 405.6,303 403,304"/>
<ellipse fill="#c0c0c0" cx="405" cy="312.8" rx="3" ry="3"/>
<polygon fill="#c0c0c0" points="353.5,292 358,290 361,291 360,294.5 356,296 354,294.5"/>
<polygon fill="#c0c0c0" points="358.5,296.5 362.5,295.5 363,298.5 359.5,299"/>
<polygon fill="#c0c0c0" points="354,290 360,290 360.5,293 357,296 354,295"/>
<polygon fill="#c0c0c0" points="358.5,296.5 362.5,295.5 363.5,298.5 359.5,299.5"/>
<polygon fill="#c0c0c0" points="372.5,301 375.5,300 379,303 376,304.5 373,303.5"/>
<polygon fill="#c0c0c0" points="402,297 404,297 405,302 403.5,302.5"/>
<ellipse fill="#c0c0c0" cx="405.2" cy="312.8" rx="3.2" ry="3"/>
<polygon fill="#c0c0c0" points="396,329.5 399.5,329 400,332 397,333"/>
<polygon fill="#c0c0c0" points="385,330 387.5,328.5 393.5,336 391.5,338 387,336.5 385.2,333"/>
<ellipse fill="#c0c0c0" cx="372.8" cy="337" rx="2.5" ry="2.5"/>
<polygon fill="#c0c0c0" points="364.5,338 367.5,338 367.5,339.5 364.5,339.5"/></g></g>
<g shape-rendering="crispEdges" fill="#000">
<rect x="298" y="25" width="1" height="620"/>
<rect x="421" y="25" width="1" height="620"/>
<rect x="298" y="25" width="124" height="1"/>
<rect x="298" y="644" width="124" height="1"/>
<rect x="291" y="644" width="7" height="1"/>
<rect x="295" y="624" width="3" height="1"/>
<rect x="295" y="603" width="3" height="1"/>
<rect x="295" y="583" width="3" height="1"/>
<rect x="295" y="562" width="3" height="1"/>
<rect x="291" y="541" width="7" height="1"/>
<rect x="295" y="521" width="3" height="1"/>
<rect x="295" y="500" width="3" height="1"/>
<rect x="295" y="479" width="3" height="1"/>
<rect x="295" y="459" width="3" height="1"/>
<rect x="291" y="438" width="7" height="1"/>
<rect x="295" y="418" width="3" height="1"/>
<rect x="295" y="397" width="3" height="1"/>
<rect x="295" y="376" width="3" height="1"/>
<rect x="295" y="356" width="3" height="1"/>
<rect x="291" y="335" width="7" height="1"/>
<rect x="295" y="314" width="3" height="1"/>
<rect x="295" y="294" width="3" height="1"/>
<rect x="295" y="273" width="3" height="1"/>
<rect x="295" y="252" width="3" height="1"/>
<rect x="291" y="232" width="7" height="1"/>
<rect x="295" y="211" width="3" height="1"/>
<rect x="295" y="191" width="3" height="1"/>
<rect x="295" y="170" width="3" height="1"/>
<rect x="295" y="149" width="3" height="1"/>
<rect x="291" y="129" width="7" height="1"/>
<rect x="295" y="108" width="3" height="1"/>
<rect x="295" y="87" width="3" height="1"/>
<rect x="295" y="67" width="3" height="1"/>
<rect x="295" y="46" width="3" height="1"/>
<rect x="291" y="25" width="7" height="1"/>
<rect x="298" y="645" width="1" height="3"/>
<rect x="318" y="645" width="1" height="3"/>
<rect x="339" y="645" width="1" height="3"/>
<rect x="359" y="645" width="1" height="7"/>
<rect x="380" y="645" width="1" height="3"/>
<rect x="401" y="645" width="1" height="3"/>
<rect x="421" y="645" width="1" height="3"/>
</g>
<text class="ax" text-anchor="middle" transform="translate(289 642.8) rotate(-90)">0°</text>
<text class="ax" text-anchor="middle" transform="translate(289 539.6) rotate(-90)">5°</text>
<text class="ax" text-anchor="middle" transform="translate(289 436.5) rotate(-90)">10°</text>
<text class="ax" text-anchor="middle" transform="translate(289 333.3) rotate(-90)">15°</text>
<text class="ax" text-anchor="middle" transform="translate(289 230.1) rotate(-90)">20°</text>
<text class="ax" text-anchor="middle" transform="translate(289 127.0) rotate(-90)">25°</text>
<text class="ax" text-anchor="middle" transform="translate(289 23.8) rotate(-90)">30°</text>
<text class="ax" text-anchor="middle" x="360.5" y="664">-25°</text>
<g shape-rendering="crispEdges">
<rect x="0" y="675" width="720" height="125" fill="#000"/>
<rect x="1" y="676" width="718" height="123" fill="#ffffcc"/>
<rect x="48" y="692" width="16" height="18" fill="rgb(255,253,200)"/>
<rect x="64" y="692" width="16" height="18" fill="rgb(255,250,191)"/>
<rect x="80" y="692" width="16" height="18" fill="rgb(255,246,182)"/>
<rect x="96" y="692" width="16" height="18" fill="rgb(255,242,173)"/>
<rect x="112" y="692" width="16" height="18" fill="rgb(255,239,164)"/>
<rect x="128" y="692" width="16" height="18" fill="rgb(255,235,156)"/>
<rect x="144" y="692" width="16" height="18" fill="rgb(255,231,147)"/>
<rect x="160" y="692" width="16" height="18" fill="rgb(254,227,139)"/>
<rect x="176" y="692" width="16" height="18" fill="rgb(254,223,131)"/>
<rect x="192" y="692" width="16" height="18" fill="rgb(254,219,122)"/>
<rect x="208" y="692" width="16" height="18" fill="rgb(254,213,114)"/>
<rect x="224" y="692" width="16" height="18" fill="rgb(254,205,105)"/>
<rect x="240" y="692" width="16" height="18" fill="rgb(254,198,97)"/>
<rect x="256" y="692" width="16" height="18" fill="rgb(254,190,89)"/>
<rect x="272" y="692" width="16" height="18" fill="rgb(254,182,80)"/>
<rect x="288" y="692" width="16" height="18" fill="rgb(254,174,74)"/>
<rect x="304" y="692" width="16" height="18" fill="rgb(254,167,71)"/>
<rect x="320" y="692" width="16" height="18" fill="rgb(254,160,68)"/>
<rect x="336" y="692" width="16" height="18" fill="rgb(253,152,65)"/>
<rect x="352" y="692" width="16" height="18" fill="rgb(253,145,62)"/>
<rect x="368" y="692" width="16" height="18" fill="rgb(253,135,58)"/>
<rect x="384" y="692" width="16" height="18" fill="rgb(253,122,55)"/>
<rect x="400" y="692" width="16" height="18" fill="rgb(252,110,51)"/>
<rect x="416" y="692" width="16" height="18" fill="rgb(252,97,47)"/>
<rect x="432" y="692" width="16" height="18" fill="rgb(252,84,44)"/>
<rect x="448" y="692" width="16" height="18" fill="rgb(250,73,41)"/>
<rect x="464" y="692" width="16" height="18" fill="rgb(244,62,38)"/>
<rect x="480" y="692" width="16" height="18" fill="rgb(240,52,35)"/>
<rect x="496" y="692" width="16" height="18" fill="rgb(234,42,32)"/>
<rect x="512" y="692" width="16" height="18" fill="rgb(230,31,29)"/>
<rect x="528" y="692" width="16" height="18" fill="rgb(223,23,29)"/>
<rect x="544" y="692" width="16" height="18" fill="rgb(216,18,31)"/>
<rect x="560" y="692" width="16" height="18" fill="rgb(208,13,33)"/>
<rect x="576" y="692" width="16" height="18" fill="rgb(200,8,35)"/>
<rect x="592" y="692" width="16" height="18" fill="rgb(193,3,37)"/>
<rect x="608" y="692" width="16" height="18" fill="rgb(183,0,38)"/>
<rect x="624" y="692" width="16" height="18" fill="rgb(171,0,38)"/>
<rect x="640" y="692" width="16" height="18" fill="rgb(158,0,38)"/>
<rect x="656" y="692" width="16" height="18" fill="rgb(146,0,38)"/>
<rect x="672" y="692" width="17" height="18" fill="rgb(134,0,38)"/>
<rect x="48" y="710" width="1" height="4" fill="#000"/>
<rect x="64" y="710" width="1" height="3" fill="#000"/>
<rect x="80" y="710" width="1" height="3" fill="#000"/>
<rect x="96" y="710" width="1" height="3" fill="#000"/>
<rect x="112" y="710" width="1" height="4" fill="#000"/>
<rect x="128" y="710" width="1" height="3" fill="#000"/>
<rect x="144" y="710" width="1" height="3" fill="#000"/>
<rect x="160" y="710" width="1" height="3" fill="#000"/>
<rect x="176" y="710" width="1" height="4" fill="#000"/>
<rect x="192" y="710" width="1" height="3" fill="#000"/>
<rect x="208" y="710" width="1" height="3" fill="#000"/>
<rect x="224" y="710" width="1" height="3" fill="#000"/>
<rect x="240" y="710" width="1" height="4" fill="#000"/>
<rect x="256" y="710" width="1" height="3" fill="#000"/>
<rect x="272" y="710" width="1" height="3" fill="#000"/>
<rect x="288" y="710" width="1" height="3" fill="#000"/>
<rect x="304" y="710" width="1" height="4" fill="#000"/>
<rect x="320" y="710" width="1" height="3" fill="#000"/>
<rect x="336" y="710" width="1" height="3" fill="#000"/>
<rect x="352" y="710" width="1" height="3" fill="#000"/>
<rect x="368" y="710" width="1" height="4" fill="#000"/>
<rect x="384" y="710" width="1" height="3" fill="#000"/>
<rect x="400" y="710" width="1" height="3" fill="#000"/>
<rect x="416" y="710" width="1" height="3" fill="#000"/>
<rect x="432" y="710" width="1" height="4" fill="#000"/>
<rect x="448" y="710" width="1" height="3" fill="#000"/>
<rect x="464" y="710" width="1" height="3" fill="#000"/>
<rect x="480" y="710" width="1" height="3" fill="#000"/>
<rect x="496" y="710" width="1" height="4" fill="#000"/>
<rect x="512" y="710" width="1" height="3" fill="#000"/>
<rect x="528" y="710" width="1" height="3" fill="#000"/>
<rect x="544" y="710" width="1" height="3" fill="#000"/>
<rect x="560" y="710" width="1" height="4" fill="#000"/>
<rect x="576" y="710" width="1" height="3" fill="#000"/>
<rect x="592" y="710" width="1" height="3" fill="#000"/>
<rect x="608" y="710" width="1" height="3" fill="#000"/>
<rect x="624" y="710" width="1" height="4" fill="#000"/>
<rect x="640" y="710" width="1" height="3" fill="#000"/>
<rect x="656" y="710" width="1" height="3" fill="#000"/>
<rect x="672" y="710" width="1" height="3" fill="#000"/>
<rect x="688" y="710" width="1" height="4" fill="#000"/>
</g>
<text class="lb" text-anchor="middle" x="47" y="725">0</text>
<text class="lb" text-anchor="middle" x="111" y="725">0.1</text>
<text class="lb" text-anchor="middle" x="175" y="725">0.2</text>
<text class="lb" text-anchor="middle" x="239" y="725">0.3</text>
<text class="lb" text-anchor="middle" x="303" y="725">0.4</text>
<text class="lb" text-anchor="middle" x="367" y="725">0.5</text>
<text class="lb" text-anchor="middle" x="431" y="725">0.6</text>
<text class="lb" text-anchor="middle" x="495" y="725">0.7</text>
<text class="lb" text-anchor="middle" x="559" y="725">0.8</text>
<text class="lb" text-anchor="middle" x="623" y="725">0.9</text>
<text class="lb" text-anchor="middle" x="689.3" y="725">1</text>
<text class="lg b" x="48" y="743" textLength="283.2" lengthAdjust="spacing">ABI L2+ Aerosol Optical Depth at 550 nm (1)</text>
<text class="lg" x="48" y="754" textLength="628.8" lengthAdjust="spacing" word-spacing="0.3">Experimental NRT AOD 4 hour composite created from ABI L2 data from GOES-19. Fields generated by Atlantic</text>
<text class="lg" x="48" y="765" textLength="186.2" lengthAdjust="spacing" word-spacing="0.5">OceanWatch node at NOAA/AOML</text>
<text class="lg" x="48" y="776" textLength="138" lengthAdjust="spacing">(2025-12-19T14:00:00Z)</text>
<text class="lg" x="48" y="787" textLength="272" lengthAdjust="spacing" word-spacing="0.8">Data courtesy of USDOC/NOAA/OAR/AOML/PHOD</text>
</svg></body></html>
